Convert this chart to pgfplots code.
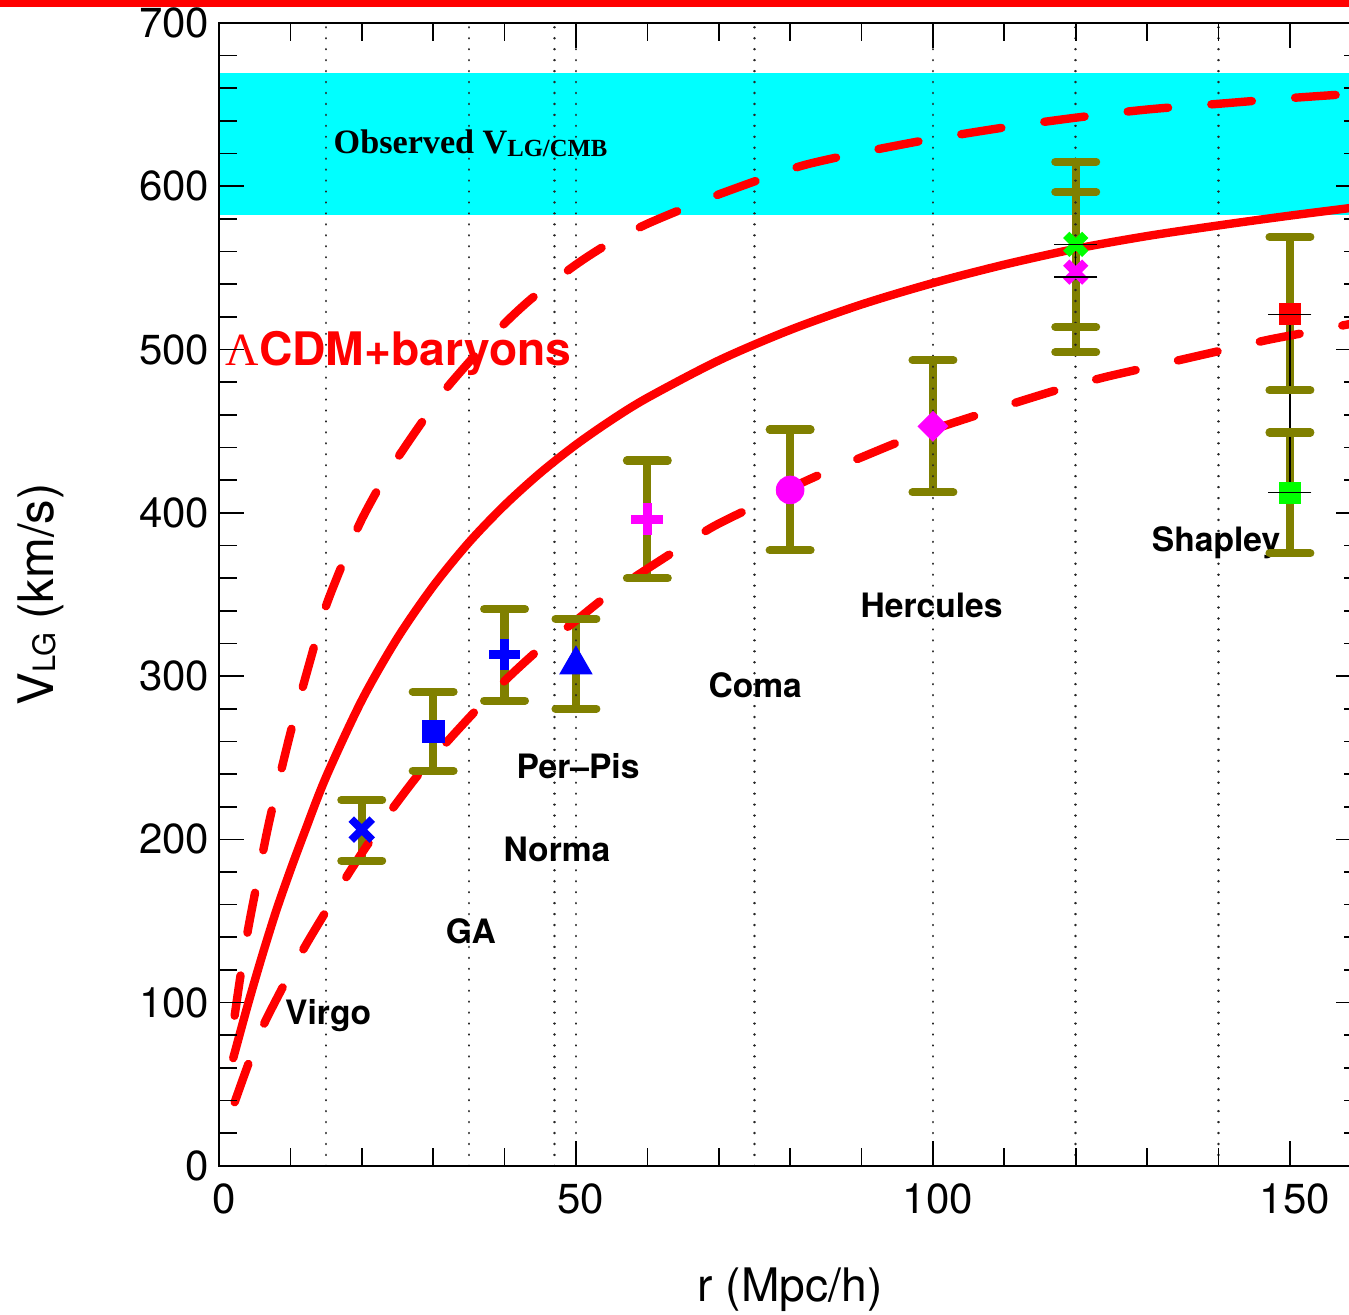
\documentclass[border=0pt]{standalone}
\usepackage{pgfplots}
\pgfplotsset{compat=1.18}
\usepackage{fontspec}
\setmainfont{TeX Gyre Heros}
\newfontfamily\serifb{Liberation Serif}
\definecolor{olivec}{RGB}{128,128,0}
\definecolor{bandcyan}{RGB}{0,255,255}
\definecolor{myred}{RGB}{255,0,0}
\definecolor{mymag}{RGB}{255,0,255}
\definecolor{mygreen}{RGB}{0,255,0}
\definecolor{myblue}{RGB}{0,0,255}

\pgfplotstableread{
x y
2 66
4 98
6 128
8 156
10 181
12 204.5
15 238.2
20 285.1
25 323.3
30 355.0
35 381.8
40 404.6
45 424.4
50 441.7
55 456.9
60 470.4
70 493.3
80 512.0
90 527.6
100 540.7
110 552.0
120 561.7
130 569.5
140 576
150 582
160 587.5
}\solidtab

\pgfplotstableread{
x y
2.2 92
3 116
4 143
5 166
7 210
10 265
13 313
15 343
18 376
20 396
23 420
26 440
29 459
32 477
37 502
40 516
44 532
50 552
55 566
60 577
66 588
70 595
77 606
82 613
88 619
95 625
100 629
110 636
120 642
130 647
140 650.5
150 654
160 657
}\uppertab

\pgfplotstableread{
x y
2.2 39
4 61
6 84
9 110
12 134
15 156
18 178
21 198
24 217
28 240
32 260
36 279
40 297
45 317
50 334
54 348
58 360
64 377
69 391
74 402
79 413
85 425
90 434
95 443
100 451
107 461
112 468
118 476
124 483
130 489
135 494
141 500
147 506
153 511
160 517
}\lowertab

\pgfplotstableread{
x y
20 187
20 224
nan nan
30 242
30 290.5
nan nan
40 285
40 341
nan nan
50 280
50 335
nan nan
60 360
60 432
nan nan
80 377
80 451
nan nan
100 412.5
100 493.5
nan nan
120 513.8
120 615
nan nan
120 498.3
120 596.5
nan nan
150 475
150 569
nan nan
150 375.2
150 449.2
}\errtab

\pgfplotstableread{
x y
120 544.4
120 564.2
nan nan
150 412.3
150 521.5
}\blacktab

\begin{document}
\begin{tikzpicture}
\begin{axis}[
  at={(0,0)}, anchor=south west,
  scale only axis, width=408pt, height=408.2pt,
  xmin=0, xmax=160, ymin=0, ymax=700,
  axis on top,
  xtick={0,50,100,150}, ytick={0,100,...,700},
  minor x tick num=4, minor y tick num=4,
  tick align=inside,
  major tick length=8.9pt, minor tick length=6.3pt,
  every tick/.style={black, line width=0.6pt},
  axis line style={line width=0.9pt},
  /pgf/number format/assume math mode=true,
  tick label style={font=\fontsize{15}{15}\selectfont},
  xticklabel style={yshift=-3pt, xshift=1.8pt},
  every axis x label/.style={at={(axis description cs:0.5,-0.119)}, anchor=base, font=\fontsize{16.5}{16.5}\selectfont},
  every axis y label/.style={at={(axis description cs:-0.156,0.5)}, rotate=90, anchor=center, font=\fontsize{17.5}{17.5}\selectfont},
  xlabel={r (Mpc/h)},
  ylabel={V\raisebox{-0.6pt}{\fontsize{11}{11}\selectfont LG} (km/s)},
  unbounded coords=jump,
]
% observed band
\addplot[fill=bandcyan, draw=none] coordinates {(0,582.4) (160,582.4) (160,669.5) (0,669.5)} -- cycle;

% olive error bars
\addplot[olivec, line width=2.9pt, mark=-, mark size=7.3pt, mark options={solid, line cap=round}] table {\errtab};

% dotted verticals
\pgfplotsinvokeforeach{15,35,47,50,75,100,120,140}{
  \addplot[black!85, line width=0.9pt, line cap=round, dash pattern=on 0.01pt off 3.9pt] coordinates {(#1,0) (#1,700)};
}

% markers
\addplot[only marks, mark=x, mark size=5.3pt, mark options={myblue, line width=2.8pt}] coordinates {(20,206)};
\addplot[only marks, mark=square*, mark size=3.9pt, mark options={myblue}] coordinates {(30,266.3)};
\addplot[only marks, mark=+, mark size=5.5pt, mark options={myblue, line width=3.2pt}] coordinates {(40,313)};
\addplot[only marks, mark=triangle*, mark size=6.5pt, mark options={myblue}] coordinates {(50,307)};
\addplot[only marks, mark=+, mark size=5.7pt, mark options={mymag, line width=3.2pt}] coordinates {(60,396)};
\addplot[only marks, mark=*, mark size=4.9pt, mark options={mymag}] coordinates {(80,414)};
\addplot[only marks, mark=square*, mark size=3.7pt, mark options={mymag, rotate=45}] coordinates {(100,453)};
\addplot[only marks, mark=x, mark size=4.8pt, mark options={mymag, line width=3.2pt}] coordinates {(120,547.4)};
\addplot[only marks, mark=x, mark size=4.8pt, mark options={mygreen, line width=3.2pt}] coordinates {(120,564.4)};
\addplot[only marks, mark=square*, mark size=3.7pt, mark options={myred}] coordinates {(150,522)};
\addplot[only marks, mark=square*, mark size=3.7pt, mark options={mygreen}] coordinates {(150,412.2)};

% model curves
\addplot[myred, line width=3pt, line cap=round, smooth] table {\solidtab};
\addplot[myred, line width=3pt, line cap=round, smooth, dash pattern=on 14.5pt off 15.5pt] table {\uppertab};
\addplot[myred, line width=3pt, line cap=round, smooth, dash pattern=on 14.5pt off 15.5pt] table {\lowertab};

% thin black bars
\addplot[black, line width=0.5pt, mark=-, mark size=7.7pt] table {\blacktab};

% labels
\node[anchor=base west, inner sep=0pt, font=\serifb\bfseries\fontsize{12.2}{12.2}\selectfont] at (axis cs:16.0,620.2) {Observed V\raisebox{-1.2pt}{\fontsize{8.8}{8.8}\selectfont LG/CMB}};
\node[anchor=base west, inner sep=0pt, text=myred, font=\bfseries\fontsize{16.5}{16.5}\selectfont] at (axis cs:0.84,490.5) {{\serifb\mdseries\fontsize{16.5}{16.5}\selectfont Λ}CDM+baryons};
\node[anchor=base west, inner sep=0pt, font=\bfseries\fontsize{12}{12}\selectfont] at (axis cs:9.2,86.3) {Virgo};
\node[anchor=base west, inner sep=0pt, font=\bfseries\fontsize{12}{12}\selectfont] at (axis cs:31.7,136.4) {GA};
\node[anchor=base west, inner sep=0pt, font=\bfseries\fontsize{12}{12}\selectfont] at (axis cs:39.8,186.3) {Norma};
\node[anchor=base west, inner sep=0pt, font=\bfseries\fontsize{12}{12}\selectfont] at (axis cs:41.6,237) {Per--Pis};
\node[anchor=base west, inner sep=0pt, font=\bfseries\fontsize{12}{12}\selectfont] at (axis cs:68.5,286.6) {Coma};
\node[anchor=base west, inner sep=0pt, font=\bfseries\fontsize{12}{12}\selectfont] at (axis cs:89.8,336) {Hercules};
\node[anchor=base west, inner sep=0pt, font=\bfseries\fontsize{12}{12}\selectfont] at (axis cs:130.6,376.2) {Shapley};
\end{axis}
\pgfresetboundingbox
\path[use as bounding box] (-78.2pt,-52.9pt) rectangle (403.6pt,416.4pt);
\fill[myred] (-78.2pt,414pt) rectangle (403.6pt,416.4pt);
\end{tikzpicture}
\end{document}
